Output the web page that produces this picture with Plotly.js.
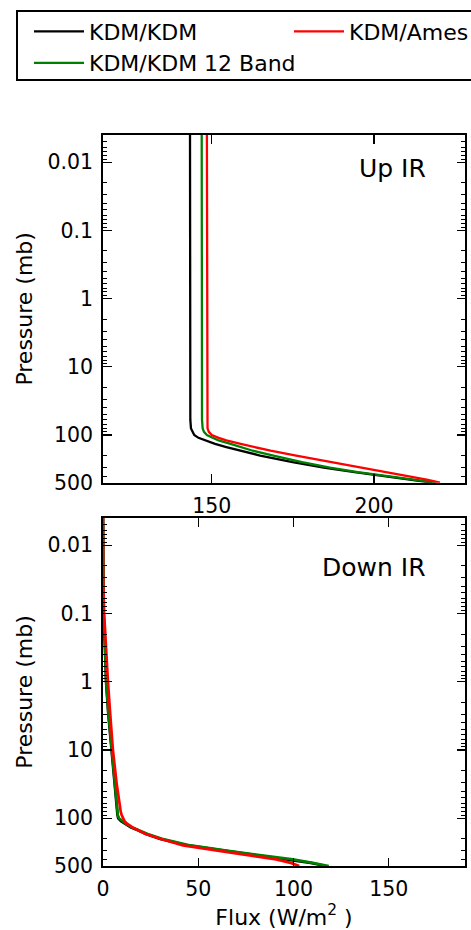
<!DOCTYPE html>
<html>
<head>
<meta charset="utf-8">
<script src="https://cdn.plot.ly/plotly-3.0.1.min.js"></script>
<style>html,body{margin:0;padding:0;background:#fff;}#chart{width:471px;height:930px;}</style>
</head>
<body>
<div id="chart"></div>
<script>
// ---- data ----
const pressure = [0.004, 0.01, 0.03, 0.1, 0.3, 1, 3, 10, 30, 60, 80, 90, 100, 110, 120, 135, 150, 170, 200, 250, 300, 350, 400, 450, 500];

// Up IR flux (W/m^2)
const upKdmKdm   = [143.3, 143.3, 143.3, 143.3, 143.3, 143.3, 143.3, 143.3, 143.3, 143.4, 143.6, 144.0, 144.6, 145.9, 147.9, 151.0, 154.5, 158.8, 164.9, 174.9, 184.5, 194.0, 203.1, 211.0, 218.0];
const upKdm12    = [146.9, 146.9, 146.9, 146.9, 146.9, 146.9, 146.9, 146.9, 146.9, 147.0, 147.2, 147.6, 148.5, 150.2, 152.1, 155.8, 159.1, 162.6, 169.0, 177.8, 186.4, 195.0, 204.2, 211.8, 219.0];
const upKdmAmes  = [148.5, 148.5, 148.5, 148.5, 148.5, 148.5, 148.5, 148.5, 148.5, 148.5, 148.7, 149.1, 150.0, 152.1, 154.5, 158.9, 163.0, 168.1, 176.0, 187.1, 196.8, 204.8, 211.5, 216.2, 220.3];

// Down IR flux (W/m^2)
const downKdmKdm  = [0, 0, 0.05, 0.3, 1.0, 1.6, 2.8, 4.4, 6.0, 7.0, 7.4, 7.6, 8.0, 9.5, 11.5, 14.5, 18.3, 22.5, 30.0, 44.5, 64.5, 82.5, 98.0, 109.0, 117.0];
const downKdm12   = [0, 0, 0.05, 0.3, 1.1, 1.7, 2.9, 4.5, 6.1, 7.1, 7.5, 7.8, 8.4, 10.0, 12.0, 15.0, 19.0, 23.5, 31.0, 46.0, 65.7, 84.0, 99.6, 110.0, 118.5];
const downKdmAmes = [0, 0, 0.1, 0.6, 1.5, 2.6, 3.8, 5.2, 7.1, 8.5, 9.3, 9.8, 10.5, 11.3, 12.6, 15.3, 18.5, 22.5, 30.0, 42.0, 61.0, 77.3, 90.9, 98.5, 103.0];

const seriesNames = ['KDM/KDM', 'KDM/KDM 12 Band', 'KDM/Ames'];
const panelLabels = ['Up IR', 'Down IR'];

const yTickVals = [0.01, 0.1, 1, 10, 100, 500];
const yTickText = ['0.01', '0.1', '1', '10', '100', '500'];
const xTopTickVals = [150, 200];
const xBotTickVals = [0, 50, 100, 150];

// ---- styling ----
const FONT = 'DejaVu Sans, Verdana, sans-serif';
const colors = ['#000000', '#008000', '#ff0000'];

const minorVals = [];
[0.001, 0.01, 0.1, 1, 10, 100].forEach(d => { for (let k = 2; k <= 9; k++) { const v = d * k; if (v >= 0.004 && v < 500) minorVals.push(v); } });

const traces = [];
const upSets = [upKdmKdm, upKdm12, upKdmAmes];
const downSets = [downKdmKdm, downKdm12, downKdmAmes];
for (let i = 0; i < 3; i++) {
  traces.push({
    x: upSets[i], y: pressure, xaxis: 'x', yaxis: 'y', mode: 'lines', name: seriesNames[i],
    line: {color: colors[i], width: 2.3}, showlegend: true, legend: i === 2 ? 'legend2' : 'legend'
  });
}
for (let i = 0; i < 3; i++) {
  traces.push({
    x: downSets[i], y: pressure, xaxis: 'x2', yaxis: 'y2', mode: 'lines', name: seriesNames[i],
    line: {color: colors[i], width: 2.7}, showlegend: false
  });
}

const L = 103, R = 6, T = 135, B = 64, W = 471, H = 930;
const pw = W - L - R, ph = H - T - B;
const px = v => (v - L) / pw;           // pixel -> paper x
const py = v => (H - B - v) / ph;       // pixel -> paper y

const yAxisBase = {
  type: 'log', range: [Math.log10(500), Math.log10(0.004)], autorange: false,
  tickmode: 'array', tickvals: yTickVals, ticktext: yTickText,
  ticks: 'inside', ticklen: 8.5, tickwidth: 1.3, tickcolor: '#000',
  minor: {tickmode: 'array', tickvals: minorVals, ticks: 'inside', ticklen: 4.3, tickwidth: 1, tickcolor: '#000', showgrid: false},
  showline: true, linecolor: '#000', linewidth: 1.8, mirror: 'allticks',
  showgrid: false, zeroline: false,
  tickfont: {family: FONT, size: 20.5, color: '#000'},
  ticklabelstandoff: 4,
  title: {text: 'Pressure (mb)', font: {family: FONT, size: 22, color: '#000'}, standoff: 9}
};
const xAxisBase = {
  ticks: 'inside', ticklen: 8.5, tickwidth: 1.3, tickcolor: '#000',
  showline: true, linecolor: '#000', linewidth: 1.8, mirror: 'allticks',
  showgrid: false, zeroline: false,
  tickfont: {family: FONT, size: 20.5, color: '#000'},
  ticklabelstandoff: 4
};

const layout = {
  width: W, height: H,
  margin: {l: L, r: R, t: T, b: B, autoexpand: false},
  paper_bgcolor: '#fff', plot_bgcolor: '#fff',
  font: {family: FONT, color: '#000'},
  xaxis: Object.assign({}, xAxisBase, {domain: [0, 1], anchor: 'y', range: [116.5, 228], tickmode: 'array', tickvals: xTopTickVals}),
  yaxis: Object.assign({}, yAxisBase, {domain: [py(482.7), 1], anchor: 'x'}),
  xaxis2: Object.assign({}, xAxisBase, {domain: [0, 1], anchor: 'y2', range: [0, 190], tickmode: 'array', tickvals: xBotTickVals,
    title: {text: 'Flux (W/m<sup>2</sup> )', font: {family: FONT, size: 22, color: '#000'}, standoff: 8}}),
  yaxis2: Object.assign({}, yAxisBase, {domain: [0, py(518)], anchor: 'x2'}),
  legend: {x: px(29), y: py(10.5), xanchor: 'left', yanchor: 'top', orientation: 'v',
    bgcolor: 'rgba(0,0,0,0)', borderwidth: 0, itemwidth: 50,
    font: {family: FONT, size: 22, color: '#000'}},
  legend2: {x: px(289), y: py(10.5), xanchor: 'left', yanchor: 'top', orientation: 'v',
    bgcolor: 'rgba(0,0,0,0)', borderwidth: 0, itemwidth: 50,
    font: {family: FONT, size: 22, color: '#000'}},
  shapes: [{type: 'rect', xref: 'paper', yref: 'paper', x0: px(17), x1: px(485), y0: py(80), y1: py(11),
    line: {color: '#000', width: 2}, fillcolor: 'rgba(0,0,0,0)'}],
  annotations: [
    {text: panelLabels[0], xref: 'paper', yref: 'paper', x: px(428), y: py(169), xanchor: 'right', yanchor: 'middle', showarrow: false,
     font: {family: FONT, size: 25, color: '#000'}},
    {text: panelLabels[1], xref: 'paper', yref: 'paper', x: px(428), y: py(567), xanchor: 'right', yanchor: 'middle', showarrow: false,
     font: {family: FONT, size: 25, color: '#000'}}
  ]
};

Plotly.newPlot('chart', traces, layout, {staticPlot: true, displayModeBar: false});
</script>
</body>
</html>
